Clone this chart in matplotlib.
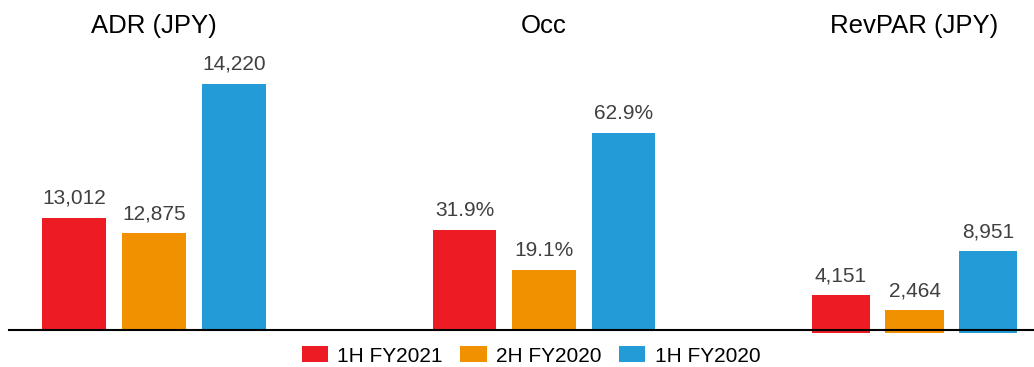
import matplotlib
matplotlib.use("Agg")
import matplotlib.pyplot as plt
from matplotlib.lines import Line2D
from matplotlib.patches import Patch

plt.rcParams['font.family'] = ['Liberation Sans', 'DejaVu Sans']

# Data
periods = ["1H FY2021", "2H FY2020", "1H FY2020"]
adr_values = [13012, 12875, 14220]
occ_values = [31.9, 19.1, 62.9]
revpar_values = [4151, 2464, 8951]
colors = ["#ED1C24", "#F29100", "#229BD7"]

W, H = 1034, 367
fig = plt.figure(figsize=(W / 100, H / 100), dpi=100)


def px_axes(left, top, width, bottom):
    return fig.add_axes([left / W, 1 - bottom / H, width / W, (bottom - top) / H])


panels = [
    # title, values, formatter, (left, width, bottom), ylim, bar width
    ("ADR (JPY)", adr_values, lambda v: f"{v:,.0f}", (34, 240, 330), (12000, 14570), 0.8),
    ("Occ", occ_values, lambda v: f"{v:.1f}%", (424.75, 238.5, 330), (0, 91.1), 0.8),
    ("RevPAR (JPY)", revpar_values, lambda v: f"{v:,.0f}", (804.25, 220.5, 333), (0, 31400), 0.79),
]

for title, vals, fmt, (left, width, bottom), ylim, bw in panels:
    ax = px_axes(left, 45, width, bottom)
    xs = range(len(vals))
    base = ylim[0]
    bars = ax.bar(xs, [v - base for v in vals], bottom=base, width=bw,
                  color=colors, zorder=2)
    for x, v in zip(xs, vals):
        ax.annotate(fmt(v), (x, v), xytext=(0, 10), textcoords="offset points",
                    ha="center", va="baseline", fontsize=15, color="#404040")
    ax.set_xlim(-0.5, len(vals) - 0.5)
    ax.set_ylim(*ylim)
    ax.set_title(title, fontsize=18.5, color="black", pad=8.6)
    ax.axis("off")

# Shared baseline across all panels
fig.add_artist(Line2D([9 / W, 1.0], [1 - 330 / H] * 2, transform=fig.transFigure,
                      color="black", linewidth=1.5, zorder=10))

handles = [Patch(facecolor=c, edgecolor="none") for c in colors]
fig.legend(handles, periods, loc="center", bbox_to_anchor=(531 / W, 1 - 356 / H),
           ncol=3, frameon=False, fontsize=15, handlelength=1.25, handleheight=0.77,
           handletextpad=0.45, columnspacing=0.85, borderpad=0, borderaxespad=0)

fig.savefig("out.png", dpi=100)
